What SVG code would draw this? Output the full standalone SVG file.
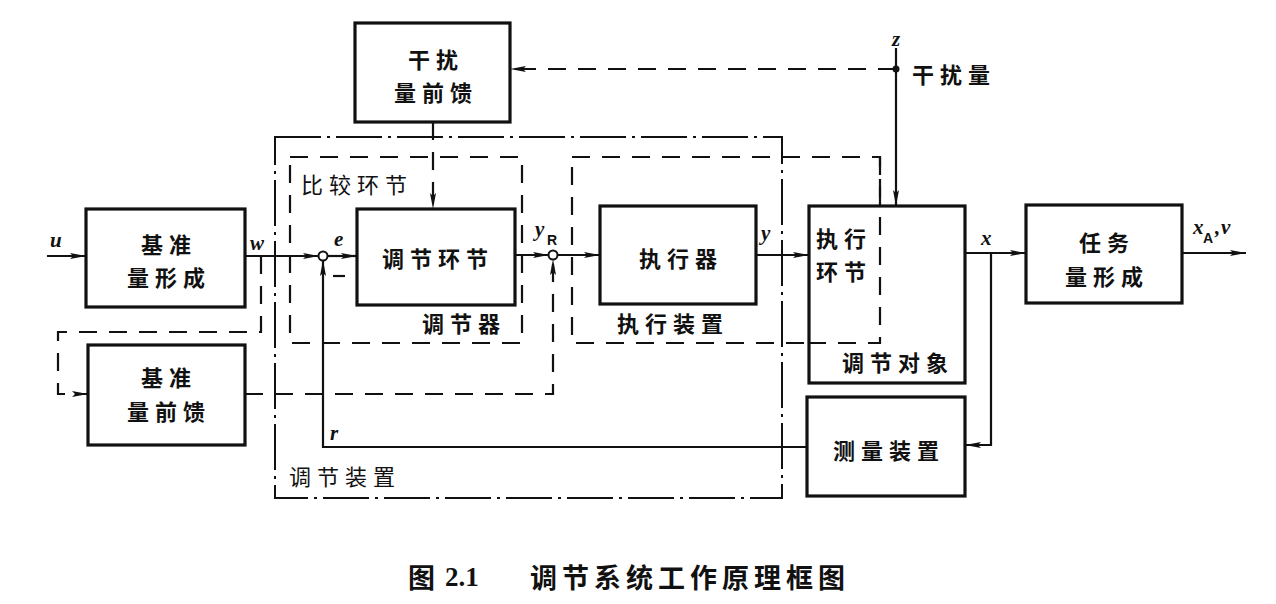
<svg xmlns="http://www.w3.org/2000/svg" width="1276" height="604" viewBox="0 0 1276 604">
<defs>
<marker id="ah" viewBox="0 0 16 8" refX="16" refY="4" markerWidth="16" markerHeight="8" markerUnits="userSpaceOnUse" orient="auto">
<path d="M0,1 L16,4 L0,7 L3,4 Z" fill="#111"/>
</marker>
<style>
.box{fill:#fff;stroke:#111;stroke-width:3.2}
.ln{fill:none;stroke:#111;stroke-width:2.2}
.dl{fill:none;stroke:#111;stroke-width:2.2;stroke-dasharray:18 12}
.dd{fill:none;stroke:#111;stroke-width:2;stroke-dasharray:46 6 3 6}
.cj{font-family:"Noto Sans CJK SC","Noto Sans CJK JP",sans-serif;font-size:22px;fill:#111;letter-spacing:6px}
.cb{font-weight:bold}
.var{font-family:"Liberation Serif",serif;font-style:italic;font-weight:bold;font-size:21px;fill:#111}
.sub{font-family:"Liberation Sans",sans-serif;font-weight:bold;font-size:14px;fill:#111}
</style>
</defs>
<rect width="1276" height="604" fill="#fff"/>

<!-- grouping frames -->
<g id="frame-tiaojiezhuangzhi">
<rect class="dd" x="275" y="137" width="507" height="361"/>
<text class="cj" x="289" y="475" dominant-baseline="central">调节装置</text>
</g>
<g id="frame-tiaojieqi">
<rect class="dl" x="290" y="157" width="232" height="186"/>
<text class="cj" x="301" y="183" dominant-baseline="central">比较环节</text>
<text class="cj cb" x="422" y="322" dominant-baseline="central">调节器</text>
</g>
<g id="frame-zhixingzhuangzhi">
<rect class="dl" x="572" y="157" width="308" height="186"/>
</g>

<!-- nodes -->
<g id="jizhun-xingcheng">
<rect class="box" x="86" y="209" width="159" height="98"/>
<text class="cj cb" x="169" y="243" text-anchor="middle" dominant-baseline="central">基准</text>
<text class="cj cb" x="169" y="276" text-anchor="middle" dominant-baseline="central">量形成</text>
</g>
<g id="jizhun-qiankui">
<rect class="box" x="88" y="345" width="157" height="100"/>
<text class="cj cb" x="169" y="376" text-anchor="middle" dominant-baseline="central">基准</text>
<text class="cj cb" x="169" y="410" text-anchor="middle" dominant-baseline="central">量前馈</text>
</g>
<g id="ganrao-qiankui">
<rect class="box" x="355" y="23" width="155" height="99"/>
<text class="cj cb" x="436" y="58" text-anchor="middle" dominant-baseline="central">干扰</text>
<text class="cj cb" x="436" y="91" text-anchor="middle" dominant-baseline="central">量前馈</text>
</g>
<g id="tiaojie-huanjie">
<rect class="box" x="357" y="209" width="158" height="96"/>
<text class="cj cb" x="438" y="257" text-anchor="middle" dominant-baseline="central">调节环节</text>
</g>
<g id="zhixingqi">
<rect class="box" x="600" y="206" width="156" height="98"/>
<text class="cj cb" x="681" y="257" text-anchor="middle" dominant-baseline="central">执行器</text>
</g>
<g id="tiaojie-duixiang">
<rect class="box" x="809" y="206" width="156" height="177"/>
<text class="cj cb" x="816" y="237" dominant-baseline="central">执行</text>
<text class="cj cb" x="816" y="270" dominant-baseline="central">环节</text>
<text class="cj cb" x="842" y="361" dominant-baseline="central">调节对象</text>
</g>
<g id="celiang-zhuangzhi">
<rect class="box" x="807" y="397" width="158" height="99"/>
<text class="cj cb" x="889" y="449" text-anchor="middle" dominant-baseline="central">测量装置</text>
</g>
<g id="renwu-xingcheng">
<rect class="box" x="1026" y="205" width="156" height="98"/>
<text class="cj cb" x="1107" y="241" text-anchor="middle" dominant-baseline="central">任务</text>
<text class="cj cb" x="1107" y="275" text-anchor="middle" dominant-baseline="central">量形成</text>
</g>

<!-- dashed frame edge over 调节对象 box -->
<g id="frame-zhixingzhuangzhi-over">
<path class="dl" d="M880,157 L880,343 L790,343"/>
<text class="cj cb" x="617" y="322" dominant-baseline="central">执行装置</text>
</g>

<!-- connectors -->
<g id="connectors">
<path class="ln" d="M47,256 L86,256" marker-end="url(#ah)"/>
<path class="ln" d="M245,256 L319,256" marker-end="url(#ah)"/>
<path class="ln" d="M327,256 L357,256" marker-end="url(#ah)"/>
<path class="ln" d="M807,447 L323,447 L323,260" marker-end="url(#ah)"/>
<line class="ln" x1="333" y1="276" x2="345" y2="276"/>
<path class="ln" d="M515,255 L549,255" marker-end="url(#ah)"/>
<path class="ln" d="M557,255 L600,255" marker-end="url(#ah)"/>
<path class="dl" d="M245,394 L553,394 L553,259" marker-end="url(#ah)"/>
<path class="dl" d="M261,256 L261,332 L58,332 L58,394 L88,394" marker-end="url(#ah)"/>
<path class="ln" d="M756,255 L809,255" marker-end="url(#ah)"/>
<path class="ln" d="M896,48 L896,206" marker-end="url(#ah)"/>
<circle cx="896" cy="69" r="3.5" fill="#111"/>
<path class="dl" d="M896,69 L510,69" marker-end="url(#ah)"/>
<path class="dl" d="M433,122 L433,209" marker-end="url(#ah)"/>
<path class="ln" d="M965,253 L1026,253" marker-end="url(#ah)"/>
<path class="ln" d="M991,253 L991,445 L965,445" marker-end="url(#ah)"/>
<path class="ln" d="M1182,253 L1246,253" marker-end="url(#ah)"/>
<circle cx="323" cy="256" r="4.5" fill="#fff" stroke="#111" stroke-width="2"/>
<circle cx="553" cy="255" r="4.5" fill="#fff" stroke="#111" stroke-width="2"/>
</g>

<!-- signal labels -->
<g id="labels">
<text class="var" x="50" y="247">u</text>
<text class="var" x="250" y="250">w</text>
<text class="var" x="334" y="246">e</text>
<text class="var" x="535" y="236">y</text>
<text class="sub" x="547" y="245">R</text>
<text class="var" x="761" y="240">y</text>
<text class="var" x="981" y="245">x</text>
<text class="var" x="1193" y="234">x</text>
<text class="sub" x="1203" y="243">A</text>
<text class="var" x="1215" y="234">,</text>
<text class="var" x="1221" y="234">v</text>
<text class="var" x="892" y="46">z</text>
<text class="cj cb" x="912" y="73" dominant-baseline="central">干扰量</text>
<text class="var" x="330" y="440">r</text>
</g>

<g id="caption">
<text x="408" y="576" font-family="'Noto Sans CJK SC',sans-serif" font-weight="bold" font-size="27" fill="#111" dominant-baseline="central">图</text>
<text x="445" y="577" font-family="'Liberation Serif',serif" font-weight="bold" font-size="27" fill="#111" dominant-baseline="central">2.1</text>
<text x="530" y="576" font-family="'Noto Sans CJK SC',sans-serif" font-weight="bold" font-size="27" fill="#111" letter-spacing="5" dominant-baseline="central">调节系统工作原理框图</text>
</g>
</svg>
